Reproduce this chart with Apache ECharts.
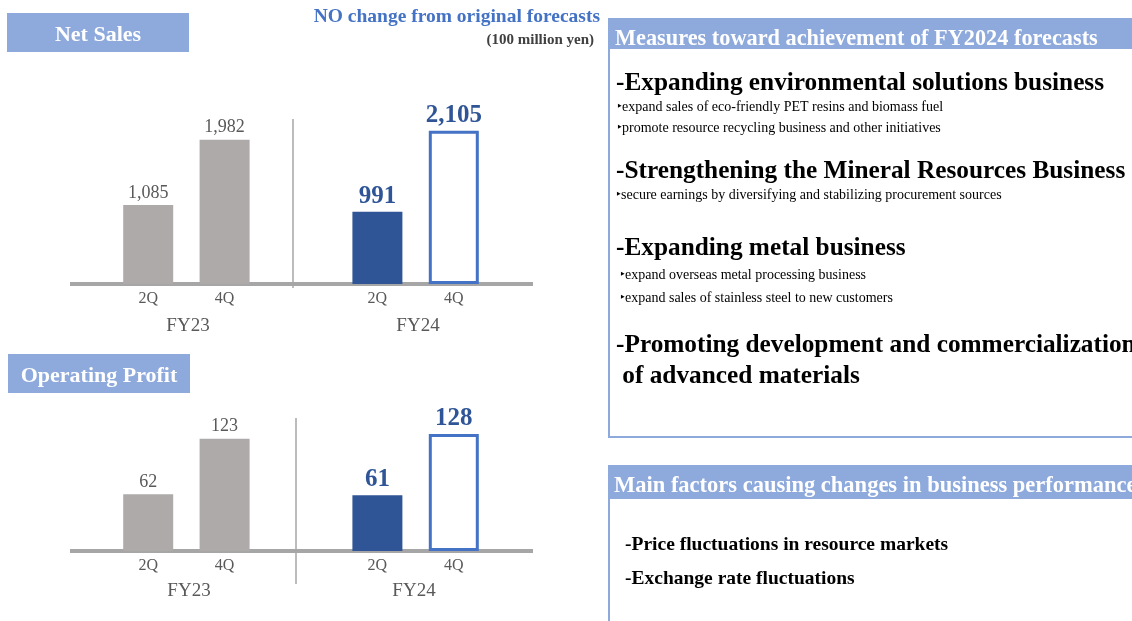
<!DOCTYPE html>
<html>
<head>
<meta charset="utf-8">
<script src="https://cdn.jsdelivr.net/npm/echarts@6/dist/echarts.min.js"></script>
<style>
  html, body { margin: 0; padding: 0; background: #fff; }
  #chart { width: 1132px; height: 621px; }
</style>
</head>
<body>
<div id="chart"></div>
<script>
// data
const quarters = ['2Q', '4Q', '', '2Q', '4Q'];
const fiscalYears = ['FY23', 'FY24'];
const netSales = [1085, 1982, null, 991, 2105];
const operatingProfit = [62, 123, null, 61, 128];
// FY23 actual / FY24 1H actual / FY24 forecast
const barKinds = ['past', 'past', null, 'actual', 'forecast'];

const serif = "'Liberation Serif', 'Times New Roman', serif";
const band = '#8EA9DB';
const gray = '#595959';

const kindStyle = {
  past: {
    itemStyle: { color: '#AEAAAA' },
    label: { color: gray, fontSize: 18, fontWeight: 'normal' }
  },
  actual: {
    itemStyle: { color: '#2F5597' },
    label: { color: '#2F5597', fontSize: 25, fontWeight: 'bold' }
  },
  forecast: {
    itemStyle: { color: '#fff', borderColor: '#4472C4', borderWidth: 3 },
    label: { color: '#2F5597', fontSize: 25, fontWeight: 'bold' }
  }
}

function barData(values) {
  return values.map((v, i) => {
    if (v == null) return '-'
    const k = kindStyle[barKinds[i]]
    return { value: v, itemStyle: k.itemStyle, label: k.label }
  })
}

const chart = echarts.init(document.getElementById('chart'), null, { renderer: 'canvas' });

const xAxisBase = {
  type: 'category',
  data: quarters,
  axisLine: { show: false },
  axisTick: { show: false },
  axisLabel: { color: gray, fontSize: 16, fontFamily: serif, margin: 7 }
}

const seriesBase = {
  type: 'bar',
  barWidth: 50,
  label: {
    show: true,
    position: 'top',
    distance: 3,
    fontFamily: serif,
    formatter: p => p.value.toLocaleString('en-US')
  }
}

function txt(text, x, y, font, fill, align) {
  return {
    type: 'text',
    style: { text, x, y: y + 2, font, fill, textAlign: align || 'left', textVerticalAlign: 'middle' }
  }
}
function line(x1, y1, x2, y2, w) {
  return {
    type: 'line',
    shape: { x1, y1, x2, y2 },
    style: { stroke: '#A6A6A6', lineWidth: w }
  }
}

const bold = s => 'bold ' + s + 'px ' + serif
const normal = s => s + 'px ' + serif

const graphics = [
  // left headers
  { type: 'rect', shape: { x: 7, y: 13, width: 182, height: 39 }, style: { fill: band } },
  txt('Net Sales', 98, 33, bold(22), '#fff', 'center'),
  { type: 'rect', shape: { x: 8, y: 354, width: 182, height: 39 }, style: { fill: band } },
  txt('Operating Profit', 99, 374, bold(22), '#fff', 'center'),
  txt('NO change from original forecasts', 600, 15, bold(19.5), '#4472C4', 'right'),
  txt('(100 million yen)', 594, 38, bold(15), '#404040', 'right'),

  // axes decoration
  line(70, 284, 533, 284, 4),
  line(293, 119, 293, 288, 1.5),
  txt(fiscalYears[0], 188, 324, normal(19), gray, 'center'),
  txt(fiscalYears[1], 418, 324, normal(19), gray, 'center'),
  line(70, 551, 533, 551, 4),
  line(296, 418, 296, 584, 1.5),
  txt(fiscalYears[0], 189, 589, normal(19), gray, 'center'),
  txt(fiscalYears[1], 414, 589, normal(19), gray, 'center'),

  // right panel 1
  { type: 'rect', shape: { x: 609, y: 19, width: 540, height: 418 }, style: { fill: '#fff', stroke: band, lineWidth: 2 } },
  { type: 'rect', shape: { x: 608, y: 18, width: 540, height: 31 }, style: { fill: band } },
  txt('Measures toward achievement of FY2024 forecasts', 615, 37, bold(22.3), '#fff'),
  txt('-Expanding environmental solutions business', 616, 81, bold(25.3), '#000'),
  txt('\u2023expand sales of eco-friendly PET resins and biomass fuel', 617, 105, normal(14), '#000'),
  txt('\u2023promote resource recycling business and other initiatives', 617, 126, normal(14), '#000'),
  txt('-Strengthening the Mineral Resources Business', 616, 169, bold(25.3), '#000'),
  txt('\u2023secure earnings by diversifying and stabilizing procurement sources', 616, 193, normal(14), '#000'),
  txt('-Expanding metal business', 616, 246, bold(25.3), '#000'),
  txt('\u2023expand overseas metal processing business', 620, 273, normal(14), '#000'),
  txt('\u2023expand sales of stainless steel to new customers', 620, 296, normal(14), '#000'),
  txt('-Promoting development and commercialization', 616, 343, bold(25.3), '#000'),
  txt(' of advanced materials', 616, 374, bold(25.3), '#000'),

  // right panel 2
  { type: 'rect', shape: { x: 609, y: 466, width: 540, height: 200 }, style: { fill: '#fff', stroke: band, lineWidth: 2 } },
  { type: 'rect', shape: { x: 608, y: 466, width: 540, height: 33 }, style: { fill: band } },
  txt('Main factors causing changes in business performance', 614, 484, bold(22.5), '#fff'),
  txt('-Price fluctuations in resource markets', 625, 543, bold(19.5), '#000'),
  txt('-Exchange rate fluctuations', 625, 577, bold(19.5), '#000')
]

const option = {
  animation: false,
  grid: [
    { left: 110, width: 382, top: 102, height: 182 },
    { left: 110, width: 382, top: 414, height: 137 }
  ],
  xAxis: [
    Object.assign({ gridIndex: 0 }, xAxisBase),
    Object.assign({ gridIndex: 1 }, xAxisBase)
  ],
  yAxis: [
    { gridIndex: 0, type: 'value', min: 0, max: 2500, show: false },
    { gridIndex: 1, type: 'value', min: 0, max: 150, show: false }
  ],
  series: [
    Object.assign({ name: 'Net Sales', xAxisIndex: 0, yAxisIndex: 0, data: barData(netSales) }, seriesBase),
    Object.assign({ name: 'Operating Profit', xAxisIndex: 1, yAxisIndex: 1, data: barData(operatingProfit) }, seriesBase)
  ],
  graphic: graphics
}

chart.setOption(option);
</script>
</body>
</html>
